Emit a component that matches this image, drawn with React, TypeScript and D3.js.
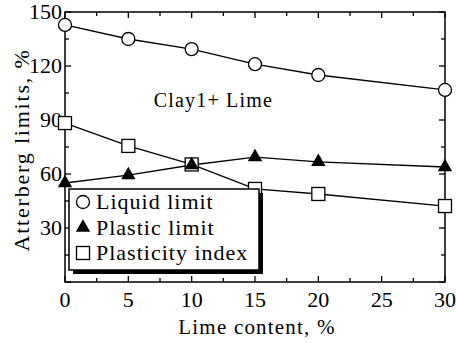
import { useEffect, useRef } from "react"
import * as d3 from "d3"

// lime content (%)
const limeContent = [0, 5, 10, 15, 20, 30]
const liquidLimit = [142.8, 135, 129.4, 121, 115, 106.7]
const plasticLimit = [55, 59.4, 65, 69.4, 66.7, 63.9]
const plasticityIndex = [88.3, 75.6, 65.3, 51.7, 48.9, 42.2]

const xTicks = [0, 5, 10, 15, 20, 25, 30]
const yTicks = [0, 30, 60, 90, 120, 150]

const legendLabels = ["Liquid limit", "Plastic limit", "Plasticity index"]

export default function App() {
  const svgRef = useRef<SVGSVGElement>(null)

  useEffect(() => {
    if (!svgRef.current) return
    const W = 456
    const H = 343
    const margin = { top: 12, right: 11, bottom: 61, left: 65 }
    const width = W - margin.left - margin.right
    const height = H - margin.top - margin.bottom
    const font = "Liberation Serif, DejaVu Serif, serif"

    const root = d3.select(svgRef.current)
    root.selectAll("*").remove()
    root.attr("width", W).attr("height", H).attr("font-family", font)

    const svg = root.append("g").attr("transform", `translate(${margin.left},${margin.top})`)

    const x = d3.scaleLinear().domain([0, 30]).range([0, width])
    const y = d3.scaleLinear().domain([0, 150]).range([height, 0])

    // frame
    svg.append("rect")
      .attr("width", width).attr("height", height)
      .attr("fill", "none").attr("stroke", "#000").attr("stroke-width", 1.5)

    // inward ticks on all four sides
    const xMinor = d3.range(0, 30.01, 2.5)
    const yMinor = d3.range(0, 150.01, 15)
    const tickG = svg.append("g").attr("stroke", "#000").attr("stroke-width", 1.3)
    xMinor.forEach(v => {
      const len = v % 5 === 0 ? 6 : 4
      tickG.append("line").attr("x1", x(v)).attr("x2", x(v)).attr("y1", height).attr("y2", height - len)
      tickG.append("line").attr("x1", x(v)).attr("x2", x(v)).attr("y1", 0).attr("y2", len)
    })
    yMinor.forEach(v => {
      const len = v % 30 === 0 ? 6 : 4
      tickG.append("line").attr("y1", y(v)).attr("y2", y(v)).attr("x1", 0).attr("x2", len)
      tickG.append("line").attr("y1", y(v)).attr("y2", y(v)).attr("x1", width).attr("x2", width - len)
    })

    // tick labels
    svg.append("g").selectAll("text").data(xTicks).enter().append("text")
      .attr("x", d => x(d)).attr("y", height + 25)
      .attr("text-anchor", "middle")
      .attr("font-size", 22)
      .text(d => d)
    svg.append("g").selectAll("text").data(yTicks.filter(d => d > 0)).enter().append("text")
      .attr("x", -3).attr("y", d => y(d) + 7)
      .attr("text-anchor", "end")
      .attr("font-size", 22)
      .text(d => d)

    // axis titles
    svg.append("text")
      .attr("x", width / 2 + 2).attr("y", height + 52)
      .attr("text-anchor", "middle")
      .attr("font-size", 21).attr("letter-spacing", 1.2)
      .text("Lime content, %")
    svg.append("text")
      .attr("transform", `translate(${-36},${height / 2 + 3}) rotate(-90)`)
      .attr("text-anchor", "middle")
      .attr("font-size", 22).attr("letter-spacing", 1.8)
      .text("Atterberg limits, %")

    // annotation
    svg.append("text")
      .attr("x", x(7)).attr("y", y(97))
      .attr("font-size", 20).attr("letter-spacing", 1.2)
      .text("Clay1+ Lime")

    const line = (vals: number[]) => d3.line<number>()
      .x((_, i) => x(limeContent[i]))
      .y(d => y(d))(vals)

    const series = [liquidLimit, plasticLimit, plasticityIndex]
    series.forEach(vals => {
      svg.append("path").attr("d", line(vals)).attr("fill", "none").attr("stroke", "#000").attr("stroke-width", 1.3)
    })

    const tri = d3.symbol().type(d3.symbolTriangle).size(90)

    const drawMarker = (g: any, kind: number, cx: number, cy: number) => {
      if (kind === 0) {
        g.append("circle").attr("cx", cx).attr("cy", cy).attr("r", 6.5)
          .attr("fill", "#fff").attr("stroke", "#000").attr("stroke-width", 1.3)
      } else if (kind === 1) {
        g.append("path").attr("d", tri()).attr("transform", `translate(${cx},${cy})`)
          .attr("fill", "#000")
      } else {
        g.append("rect").attr("x", cx - 6.5).attr("y", cy - 6.5).attr("width", 13).attr("height", 13)
          .attr("fill", "#fff").attr("stroke", "#000").attr("stroke-width", 1.3)
      }
    }

    const markers = root.append("g").attr("transform", `translate(${margin.left},${margin.top})`)
    // squares first, then triangles, then circles
    ;[2, 1, 0].forEach(k => {
      series[k].forEach((v, i) => drawMarker(markers, k, x(limeContent[i]), y(v)))
    })

    // legend with a heavy drop shadow on the right and bottom
    const lg = root.append("g")
    const lx = 69, ly = 189, lw = 190, lh = 81
    lg.append("rect").attr("x", lx + 4).attr("y", ly + 4).attr("width", lw).attr("height", lh).attr("fill", "#000")
    lg.append("rect").attr("x", lx).attr("y", ly).attr("width", lw).attr("height", lh)
      .attr("fill", "#fff").attr("stroke", "#000").attr("stroke-width", 1.5)
    legendLabels.forEach((lab, i) => {
      const cy = ly + 13 + i * 25.5
      drawMarker(lg, i, lx + 14, cy)
      lg.append("text")
        .attr("x", lx + 27).attr("y", cy + 7)
        .attr("font-size", 22).attr("letter-spacing", 1)
        .text(lab)
    })
  }, [])

  return (
    <svg ref={svgRef} style={{ position: "absolute", left: 0, top: 0, background: "#fff" }} />
  )
}
